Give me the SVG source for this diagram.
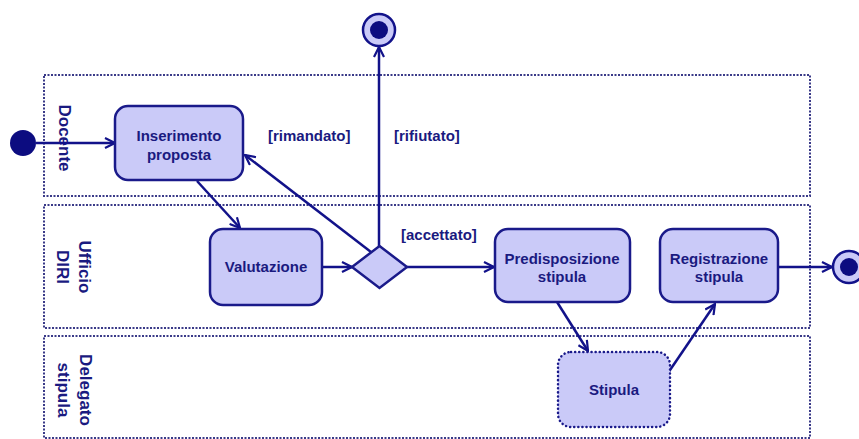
<svg xmlns="http://www.w3.org/2000/svg" width="859" height="439" viewBox="0 0 859 439">
<defs>
<style>
.lane{fill:none;stroke:#3a3a88;stroke-width:2;stroke-dasharray:2 1.5}
.node{fill:#cacaf8;stroke:#1a1a8a;stroke-width:2.5}
.dnode{fill:#cacaf8;stroke:#1a1a8a;stroke-width:2.5;stroke-dasharray:0.1 4;stroke-linecap:round}
.t{font-family:"Liberation Sans",Arial,sans-serif;font-weight:bold;font-size:15px;fill:#1a1a80;text-anchor:middle}
.l{font-family:"Liberation Sans",Arial,sans-serif;font-weight:bold;font-size:17px;fill:#1a1a80;text-anchor:middle}
.g{font-family:"Liberation Sans",Arial,sans-serif;font-weight:bold;font-size:15px;fill:#1a1a80}
.c{fill:none;stroke:#12128a;stroke-width:2.5}
</style>
<marker id="ah" viewBox="0 0 12 12" refX="11" refY="6" markerWidth="12" markerHeight="12" markerUnits="userSpaceOnUse" orient="auto">
<path d="M1,1 L11,6 L1,11" fill="none" stroke="#12128a" stroke-width="2.2"/>
</marker>
</defs>
<rect width="859" height="439" fill="#ffffff"/>
<g id="lanes">
<rect class="lane" x="44" y="75" width="766" height="121"/>
<rect class="lane" x="44" y="205" width="766" height="123"/>
<rect class="lane" x="44" y="336" width="766" height="102"/>
<text class="l" transform="translate(65,138) rotate(90)" dy="0.35em">Docente</text>
<text class="l" transform="translate(85,267) rotate(90)" dy="0.35em">Ufficio</text>
<text class="l" transform="translate(62.5,267) rotate(90)" dy="0.35em">DIRI</text>
<text class="l" transform="translate(86,390) rotate(90)" dy="0.35em">Delegato</text>
<text class="l" transform="translate(63.5,390) rotate(90)" dy="0.35em">stipula</text>
</g>
<g id="connectors">
<line class="c" x1="36" y1="143" x2="115" y2="143" marker-end="url(#ah)"/>
<line class="c" x1="197" y1="181" x2="240" y2="228" marker-end="url(#ah)"/>
<line class="c" x1="322" y1="267" x2="352" y2="267" marker-end="url(#ah)"/>
<line class="c" x1="371" y1="252" x2="245" y2="155" marker-end="url(#ah)"/>
<line class="c" x1="379" y1="246" x2="379" y2="47" marker-end="url(#ah)"/>
<line class="c" x1="407" y1="267" x2="494" y2="267" marker-end="url(#ah)"/>
<line class="c" x1="557" y1="302" x2="588" y2="351" marker-end="url(#ah)"/>
<line class="c" x1="668" y1="373" x2="715" y2="304" marker-end="url(#ah)"/>
<line class="c" x1="778" y1="267" x2="832" y2="267" marker-end="url(#ah)"/>
<text class="g" x="268" y="141">[rimandato]</text>
<text class="g" x="394" y="141">[rifiutato]</text>
<text class="g" x="401" y="240">[accettato]</text>
</g>
<g id="start">
<circle cx="23" cy="143" r="13" fill="#0c0c80"/>
</g>
<g id="inserimento">
<rect class="node" x="115" y="106" width="128" height="74" rx="13"/>
<text class="t" x="179" y="141">Inserimento</text>
<text class="t" x="179" y="160">proposta</text>
</g>
<g id="valutazione">
<rect class="node" x="210" y="229" width="112" height="76" rx="13"/>
<text class="t" x="266" y="272">Valutazione</text>
</g>
<g id="decisione">
<polygon class="node" points="379.5,246 407,267 379.5,288 352,267"/>
</g>
<g id="fine-rifiuto">
<circle cx="379" cy="30" r="16" fill="#cacaf8" stroke="#12128a" stroke-width="2.5"/>
<circle cx="379" cy="30" r="9" fill="#0c0c80"/>
</g>
<g id="predisposizione">
<rect class="node" x="495" y="229" width="135" height="73" rx="13"/>
<text class="t" x="562" y="264">Predisposizione</text>
<text class="t" x="562" y="282">stipula</text>
</g>
<g id="registrazione">
<rect class="node" x="660" y="229" width="118" height="73" rx="13"/>
<text class="t" x="719" y="264">Registrazione</text>
<text class="t" x="719" y="282">stipula</text>
</g>
<g id="stipula">
<rect class="dnode" x="558" y="352" width="112" height="75" rx="13"/>
<text class="t" x="614" y="395">Stipula</text>
</g>
<g id="fine">
<circle cx="849" cy="267" r="16" fill="#cacaf8" stroke="#12128a" stroke-width="2.5"/>
<circle cx="849" cy="267" r="9" fill="#0c0c80"/>
</g>
</svg>
